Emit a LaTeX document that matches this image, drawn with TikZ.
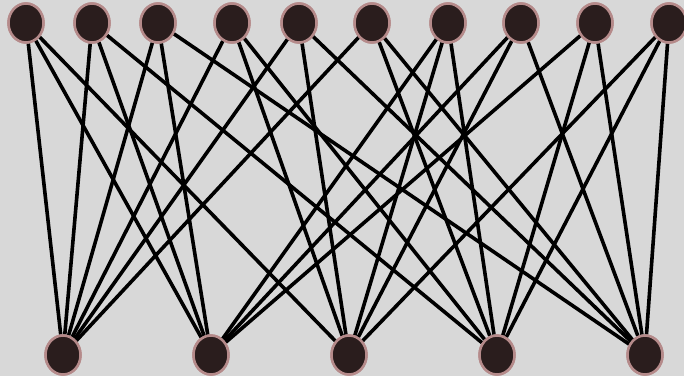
\documentclass[tikz,border=0pt]{standalone}
\usetikzlibrary{shapes.geometric}
\definecolor{bg}{HTML}{D8D8D8}
\definecolor{nodefill}{HTML}{2A1D1D}
\definecolor{noderim}{HTML}{B58A8A}
\begin{document}
\begin{tikzpicture}[x=1pt,y=1pt,
  vert/.style={ellipse,fill=nodefill,draw=noderim,line width=2.5pt,minimum width=35pt,minimum height=39pt,inner sep=0pt},
  edge/.style={black,line width=3.6pt}]
\fill[bg] (0,0) rectangle (684,376);
\useasboundingbox (0,0) rectangle (684,376);
\foreach \n/\x in {1/26,2/92,3/158,4/232,5/299,6/372,7/448,8/521,9/595,10/669}
  \node[vert] (t\n) at (\x,353) {};
\foreach \n/\x in {1/63,2/211,3/349,4/497,5/645}
  \node[vert] (b\n) at (\x,21) {};
\foreach \a/\b in {1/1,1/2,1/3, 2/1,2/2,2/4, 3/1,3/2,3/5, 4/1,4/3,4/4, 5/1,5/3,5/5,
  6/1,6/4,6/5, 7/2,7/3,7/4, 8/2,8/3,8/5, 9/2,9/4,9/5, 10/3,10/4,10/5}
  \draw[edge] (t\a) -- (b\b);
\foreach \n/\x in {1/26,2/92,3/158,4/232,5/299,6/372,7/448,8/521,9/595,10/669}
  \node[vert] at (\x,353) {};
\foreach \n/\x in {1/63,2/211,3/349,4/497,5/645}
  \node[vert] at (\x,21) {};
\end{tikzpicture}
\end{document}
